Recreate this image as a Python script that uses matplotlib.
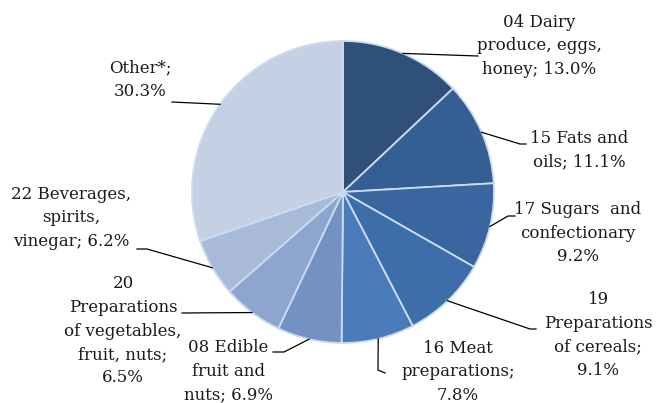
import numpy as np
import matplotlib
matplotlib.use("Agg")
import matplotlib.pyplot as plt

# share of exports by product group, %
labels = ["04 Dairy\nproduce, eggs,\nhoney; 13.0%",
          "15 Fats and\noils; 11.1%",
          "17 Sugars  and\nconfectionary\n9.2%",
          "19\nPreparations\nof cereals;\n9.1%",
          "16 Meat\npreparations;\n7.8%",
          "08 Edible\nfruit and\nnuts; 6.9%",
          "20\nPreparations\nof vegetables,\nfruit, nuts;\n6.5%",
          "22 Beverages,\nspirits,\nvinegar; 6.2%",
          "Other*;\n30.3%"]
shares = [13.0, 11.1, 9.2, 9.1, 7.8, 6.9, 6.5, 6.2, 30.3]
colors = ["#2f5079", "#355e92", "#3a66a0", "#3e6eaa", "#4a7cbc",
          "#7392c3", "#8ea6cd", "#a9bad8", "#c6d0e4"]

# label layout in pixel coords (y from top): text centre, leader path
text_pos = [(539, 46), (579, 150), (578, 233), (598, 335), (458, 372),
            (228, 371), (123, 331), (71, 218), (140, 80)]
leader_pts = [[(478, 56)],
              [(520, 144), (526, 144)],
              [(508, 216), (515, 216)],
              [(530, 329), (536, 329)],
              [(378, 370), (385, 373)],
              [(284, 352), (273, 352)],
              [(182, 313)],
              [(147, 249), (137, 249)],
              [(172, 102)]]

W, H = 658, 403
cx, cy, R = 343, 192, 151

fig = plt.figure(figsize=(W / 100, H / 100), dpi=100)
ax = fig.add_axes([0, 0, 1, 1])

wedges, _ = ax.pie(shares, colors=colors, startangle=90, counterclock=False,
                   center=(cx, H - cy), radius=R, frame=True,
                   wedgeprops=dict(edgecolor="#c9dcf2", linewidth=1.3))
ax.set_xlim(0, W)
ax.set_ylim(0, H)
ax.axis("off")

for w, lab, (tx, ty), pts in zip(wedges, labels, text_pos, leader_pts):
    ang = np.deg2rad((w.theta1 + w.theta2) / 2)
    xs = [cx + R * np.cos(ang)] + [p[0] for p in pts]
    ys = [(H - cy) + R * np.sin(ang)] + [H - p[1] for p in pts]
    ax.plot(xs, ys, color="black", lw=0.9)
    ax.text(tx, H - ty, lab, ha="center", va="center", fontsize=12,
            family="DejaVu Serif", color="#1a1a1a", linespacing=1.5)

fig.savefig("out.png", dpi=100)
